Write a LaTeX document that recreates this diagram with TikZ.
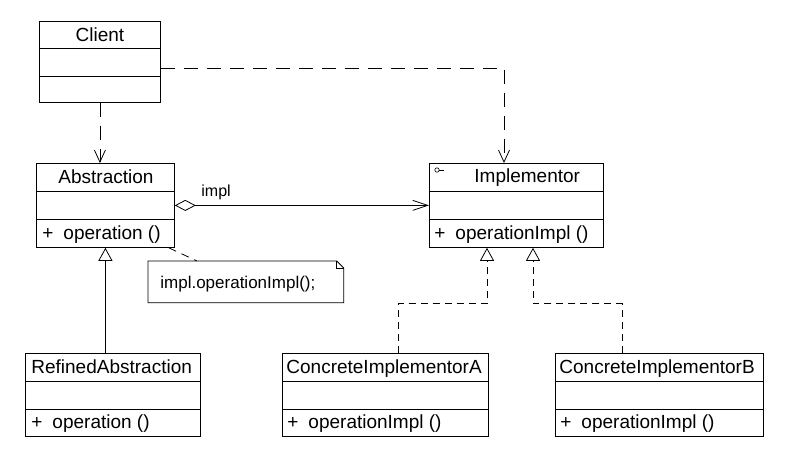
\documentclass[tikz,border=0pt]{standalone}
\usepackage{fontspec}
\setmainfont{Liberation Sans}
\usetikzlibrary{arrows.meta,calc}

\tikzset{
  umlclass/.style={draw, anchor=north west, inner sep=0pt, line width=0.8pt},
  ctext/.style={inner sep=0pt, font=\fontsize{19}{22}\selectfont},
  ntext/.style={inner sep=0pt, font=\fontsize{17}{20}\selectfont},
  rtext/.style={inner sep=0pt, font=\fontsize{16}{19}\selectfont},
  depline/.style={dash pattern=on 14pt off 9pt, -{Straight Barb[length=12pt,width=11pt]}},
  aggline/.style={{Diamond[open,length=21pt,width=11pt]}-{Straight Barb[length=15pt,width=10pt]}},
  genline/.style={-{Triangle[open,length=13pt,width=14pt]}},
  realline/.style={dash pattern=on 7pt off 5pt, -{Triangle[open,length=13pt,width=14pt]}},
  notelink/.style={dash pattern=on 8pt off 6pt},
}

% two horizontal dividers inside a class box
\newcommand\umlrows[3]{%
  \draw (#1.north west) ++(0,#2) -- ($(#1.north east)+(0,#2)$);
  \draw (#1.north west) ++(0,#3) -- ($(#1.north east)+(0,#3)$);
}
% visibility marker followed by an operation
\newcommand\umlop[1]{+\hspace{10pt}#1}

\begin{document}
\begin{tikzpicture}[x=1pt, y=-1pt, line width=0.8pt, line join=miter]
\useasboundingbox (0,0) rectangle (792,451);

% ---- class boxes ----
\node[umlclass, minimum width=121pt, minimum height=81pt] (client) at (39,21) {};
\umlrows{client}{27}{55}
\node[ctext, anchor=base] (clientname) at (100,41) {Client};

\node[umlclass, minimum width=138pt, minimum height=84pt] (abs) at (36,163) {};
\umlrows{abs}{28}{56}
\node[ctext, anchor=base] (absname) at (106,183) {Abstraction};
\node[ctext, anchor=base west] (absop) at (42,239) {\umlop{operation ()}};

\node[umlclass, minimum width=174pt, minimum height=84pt] (impl) at (429,163) {};
\umlrows{impl}{28}{56}
\node[ctext, anchor=base west] (implname) at (474,182) {Implementor};
\node[ctext, anchor=base west] (implop) at (434,239) {\umlop{operationImpl ()}};
\draw[line width=0.6pt] (437,170) circle (2.2pt);
\draw[line width=0.6pt] (439.2,170) -- (444,170);

\node[umlclass, minimum width=175pt, minimum height=83pt] (refined) at (25,353) {};
\umlrows{refined}{28}{56}
\node[ctext, anchor=base west] (refinedname) at (31,373) {RefinedAbstraction};
\node[ctext, anchor=base west] (refinedop) at (31,428) {\umlop{operation ()}};

\node[umlclass, minimum width=206pt, minimum height=83pt] (cona) at (282,353) {};
\umlrows{cona}{28}{56}
\node[ctext, anchor=base west] (conaname) at (286,373) {ConcreteImplementorA};
\node[ctext, anchor=base west] (conaop) at (287,428) {\umlop{operationImpl ()}};

\node[umlclass, minimum width=208pt, minimum height=83pt] (conb) at (555,353) {};
\umlrows{conb}{28}{56}
\node[ctext, anchor=base west] (conbname) at (559,373) {ConcreteImplementorB};
\node[ctext, anchor=base west] (conbop) at (560,428) {\umlop{operationImpl ()}};

% ---- note ----
\node[inner sep=0pt, anchor=north west, minimum width=195pt, minimum height=41pt] (note) at (148,261) {};
\draw (note.north west) -- ($(note.north east)+(-7,0)$) -- ($(note.north east)+(0,7)$)
      -- (note.south east) -- (note.south west) -- cycle;
\draw ($(note.north east)+(-7,0)$) -- ($(note.north east)+(-7,7)$) -- ($(note.north east)+(0,7)$);
\node[ntext, anchor=base west] (notetext) at (160,288) {impl.operationImpl();};

% ---- connectors ----
\coordinate (clout) at ($(client.north east)+(0,47)$);
\coordinate (implin) at ($(impl.north west)+(75,0)$);
\draw[depline] (clout) -| (implin);
\draw[depline] (client.south) -- (client.south |- abs.north);

\draw[aggline] (abs.east) -- (impl.west);
\node[rtext, anchor=base west] (impllabel) at (201,196) {impl};

\draw[notelink] ($(abs.south east)+(-6,0)$) -- ($(note.north west)+(49,0)$);

\draw[genline] (refined.north -| abs.south) -- (abs.south);

\coordinate (ia) at ($(impl.south west)+(58,0)$);
\coordinate (ib) at ($(impl.south west)+(104,0)$);
\coordinate (ta) at ($(cona.north west)+(116,0)$);
\coordinate (tb) at ($(conb.north west)+(67,0)$);
\draw[realline] (ta) |- ($(ia)+(0,56)$) -- (ia);
\draw[realline] (tb) |- ($(ib)+(0,56)$) -- (ib);
\end{tikzpicture}
\end{document}
